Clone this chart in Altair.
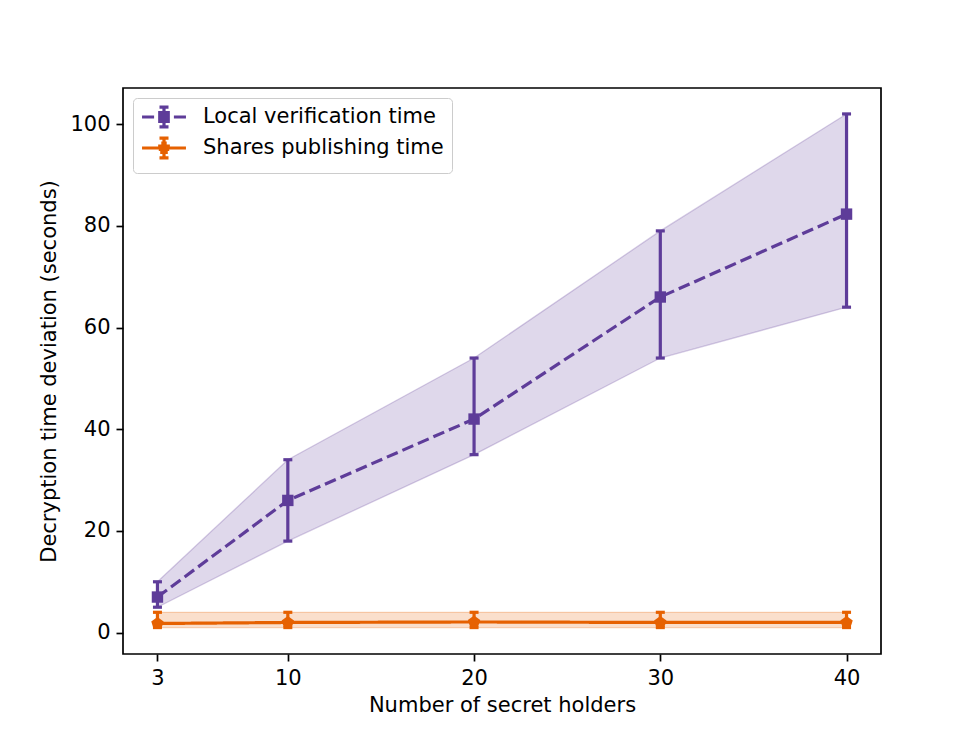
import altair as alt
import pandas as pd

# ---- data ----
holders = [3, 10, 20, 30, 40]
series_names = ["Local verification time", "Shares publishing time"]
local_mean = [7.0, 26.0, 42.0, 66.0, 82.3]
local_low = [5.0, 18.0, 35.0, 54.0, 64.0]
local_high = [10.0, 34.0, 54.0, 79.0, 102.0]
shares_mean = [1.8, 2.0, 2.1, 2.0, 2.0]
shares_low = [1.0, 1.0, 1.0, 1.0, 1.0]
shares_high = [4.0, 4.0, 4.0, 4.0, 4.0]
y_ticks = [0, 20, 40, 60, 80, 100]

colors = ["#5e3c99", "#e66101"]
FONT = "DejaVu Sans"

rows = []
for name, m, lo, hi in zip(series_names,
                           [local_mean, shares_mean],
                           [local_low, shares_low],
                           [local_high, shares_high]):
    for x, a, b, c in zip(holders, m, lo, hi):
        rows.append(dict(series=name, holders=x, mean=a, low=b, high=c))
df = pd.DataFrame(rows)

# ---- scales / axes ----
x_scale = alt.Scale(domain=[1.15, 41.85], nice=False, zero=False)
y_scale = alt.Scale(domain=[-4.2, 107.1], nice=False, zero=False)
x_axis = alt.Axis(values=holders, format="d", title="Number of secret holders")
y_axis = alt.Axis(values=y_ticks, format="d", title="Decryption time deviation (seconds)")

X = alt.X("holders:Q", scale=x_scale, axis=x_axis)
def Y(field):
    return alt.Y(f"{field}:Q", scale=y_scale, axis=y_axis)

color = alt.Color("series:N", scale=alt.Scale(domain=series_names, range=colors), legend=None)

base = alt.Chart(df)

band = base.mark_area(fillOpacity=0.2, opacity=1).encode(
    x=X, y=Y("low"), y2="high:Q", color=color)
edge_lo = base.mark_line(strokeWidth=1.3, opacity=0.25).encode(x=X, y=Y("low"), color=color)
edge_hi = base.mark_line(strokeWidth=1.3, opacity=0.25).encode(x=X, y=Y("high"), color=color)

line = base.mark_line(strokeWidth=3.2).encode(
    x=X, y=Y("mean"), color=color,
    strokeDash=alt.StrokeDash("series:N",
                              scale=alt.Scale(domain=series_names, range=[[11.8, 5.1], [1, 0]]),
                              legend=None))

err = base.mark_rule(strokeWidth=3.2).encode(x=X, y=Y("low"), y2="high:Q", color=color)
cap_lo = base.mark_tick(orient="horizontal", size=9, thickness=3.2, opacity=1).encode(
    x=X, y=Y("low"), color=color)
cap_hi = base.mark_tick(orient="horizontal", size=9, thickness=3.2, opacity=1).encode(
    x=X, y=Y("high"), color=color)

pentagon = "M0,-1L0.951,-0.309L0.588,0.809L-0.588,0.809L-0.951,-0.309Z"
pts_local = base.transform_filter(alt.datum.series == series_names[0]).mark_point(
    shape="square", filled=True, size=130, opacity=1).encode(x=X, y=Y("mean"), color=color)
pts_shares = base.transform_filter(alt.datum.series == series_names[1]).mark_point(
    shape=pentagon, filled=True, size=170, opacity=1).encode(x=X, y=Y("mean"), color=color)

# ---- legend glyphs (line + error bar + marker), drawn as strokes ----
bar = "M0,-1.1L0,1.1M-0.5,-1.1L0.5,-1.1M-0.5,1.1L0.5,1.1"
square_fill = "M-0.65,-0.5L0.65,-0.5M-0.65,-0.17L0.65,-0.17M-0.65,0.17L0.65,0.17M-0.65,0.5L0.65,0.5"
pent_fill = "M-0.3,-0.55L0.3,-0.55M-0.65,-0.2L0.65,-0.2M-0.58,0.15L0.58,0.15M-0.42,0.5L0.42,0.5"
glyph_local = "M-2.44,0L-1.1,0M1.1,0L2.44,0" + bar + square_fill
glyph_shares = "M-2.44,0L2.44,0" + bar + pent_fill

leg = alt.Legend(title=None, orient="top-left", offset=10, fillColor="white",
                 strokeColor="#cccccc", cornerRadius=4, padding=8,
                 labelFont=FONT, labelFontSize=21, labelColor="black", labelLimit=500,
                 symbolSize=324, symbolStrokeWidth=3.2, symbolOffset=12, symbolOpacity=1,
                 labelOffset=28, rowPadding=-3)

# invisible carrier layer that only provides the legend
# (data-driven domain, sorted like series_names, so it is not merged with the hidden color legend)
carrier = base.mark_point(filled=False, strokeWidth=3.2, opacity=0).encode(
    x=X, y=Y("mean"),
    stroke=alt.Stroke("series:N", scale=alt.Scale(range=colors), legend=leg),
    shape=alt.Shape("series:N", scale=alt.Scale(range=[glyph_local, glyph_shares]), legend=leg),
)

chart = alt.layer(
    band, edge_lo, edge_hi, line, err, cap_lo, cap_hi, pts_local, pts_shares, carrier
).properties(
    width=758, height=566,
    autosize=alt.AutoSizeParams(type="none"),
    padding={"left": 115, "top": 80, "right": 91, "bottom": 73},
).configure_view(
    stroke="black", strokeWidth=1.7
).configure_axis(
    domain=False, grid=False, ticks=True, tickColor="black", tickSize=7, tickWidth=1.7,
    labelFont=FONT, labelFontSize=21, labelColor="black", labelPadding=6,
    titleFont=FONT, titleFontSize=21, titleColor="black", titleFontWeight="normal",
).configure_axisX(titlePadding=6).configure_axisY(titlePadding=10)

chart.save("out.html", embed_options={"renderer": "svg", "actions": False})
